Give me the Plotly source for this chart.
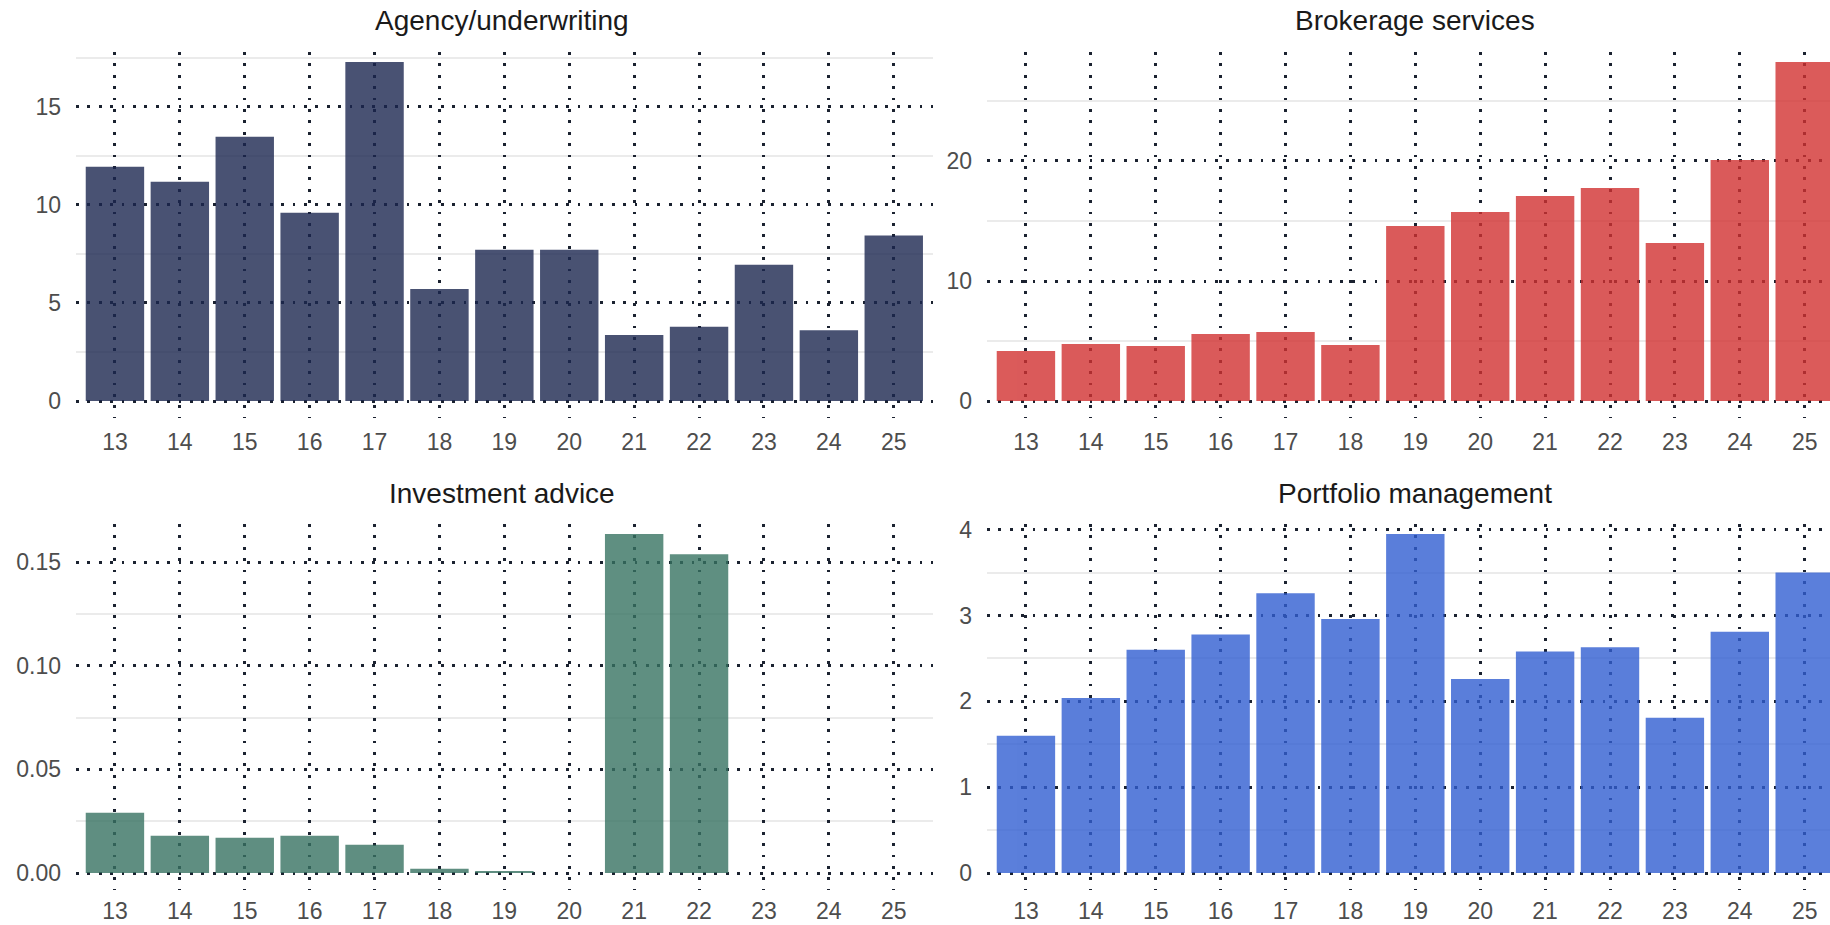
import plotly.graph_objects as go

# ---- data -------------------------------------------------------------
years = [13, 14, 15, 16, 17, 18, 19, 20, 21, 22, 23, 24, 25]
tick_labels = [str(y) for y in years]

agency = [11.94, 11.17, 13.47, 9.59, 17.28, 5.71, 7.71, 7.71, 3.37, 3.79, 6.94, 3.61, 8.43]
brokerage = [4.17, 4.75, 4.58, 5.58, 5.75, 4.67, 14.58, 15.75, 17.08, 17.75, 13.17, 20.08, 28.25]
advice = [0.0291, 0.0180, 0.0170, 0.0180, 0.0136, 0.0021, 0.0010, 0.0, 0.1636, 0.1538, 0.0, 0.0, 0.0]
portfolio = [1.60, 2.04, 2.60, 2.78, 3.26, 2.96, 3.95, 2.26, 2.58, 2.63, 1.81, 2.81, 3.50]

titles = ["Agency/underwriting", "Brokerage services", "Investment advice", "Portfolio management"]
colors = ["#1c2750", "#d23231", "#387362", "#325fd2"]
series = [agency, brokerage, advice, portfolio]
major_dtick = [5, 10, 0.05, 1]
tick_fmt = ["", "", ".2f", ""]

# ---- layout geometry (pixels in a 1830x925 page) ----------------------
W, H = 1830, 925
x_left = (76 / W, 932.7 / W)
x_right = (987 / W, 1.0)
y_top = ((H - 418) / H, (H - 45) / H)
y_bot = ((H - 890) / H, (H - 517) / H)
domains = [(x_left, y_top), (x_right, y_top), (x_left, y_bot), (x_right, y_bot)]
xranges = [[12.4, 25.6], [12.4, 25.39], [12.4, 25.6], [12.4, 25.39]]
x_standoff = [8, 8, 5, 5]
title_pos = [(502 / W, 1 - 20 / H), (1415 / W, 1 - 20 / H),
             (502 / W, 1 - 493 / H), (1415 / W, 1 - 493 / H)]

GRID_DARK = "#1b2230"
MINOR = "#ebebeb"
TICK_FONT = dict(family="Liberation Sans, Arial, sans-serif", size=23, color="#4d4d4d")
TITLE_FONT = dict(family="Liberation Sans, Arial, sans-serif", size=28, color="#1a1a1a")

fig = go.Figure()
layout = dict(
    width=W, height=H, autosize=False,
    margin=dict(l=0, r=0, t=0, b=0),
    paper_bgcolor="white", plot_bgcolor="white",
    showlegend=False, bargap=0.1,
    annotations=[],
)

for i, (vals, col) in enumerate(zip(series, colors)):
    n = "" if i == 0 else str(i + 1)
    fig.add_trace(go.Bar(
        x=years, y=vals, width=0.9, marker=dict(color=col, line=dict(width=0)),
        opacity=0.8, xaxis="x" + n, yaxis="y" + n, name=titles[i],
    ))
    vmax = max(vals)
    yr = [-0.05 * vmax, 1.05 * vmax]
    (xd, yd) = domains[i]
    layout["xaxis" + n] = dict(
        domain=list(xd), anchor="y" + n, range=xranges[i],
        tickmode="array", tickvals=years, ticktext=tick_labels,
        showgrid=True, gridcolor=GRID_DARK, gridwidth=2.8,
        griddash="0px,7px,2.8px,1.6px",
        zeroline=False, showline=False, ticks="",
        tickfont=TICK_FONT, ticklabelstandoff=x_standoff[i], automargin=False,
        fixedrange=True,
    )
    layout["yaxis" + n] = dict(
        domain=list(yd), anchor="x" + n, range=yr,
        dtick=major_dtick[i], tick0=0, tickformat=tick_fmt[i],
        showgrid=True, gridcolor=GRID_DARK, gridwidth=2.8,
        griddash="2.8px,8.6px",
        minor=dict(dtick=major_dtick[i] / 2, tick0=0, showgrid=True,
                   gridcolor=MINOR, gridwidth=1.6, griddash="solid", ticks=""),
        zeroline=False, showline=False, ticks="",
        tickfont=TICK_FONT, ticklabelstandoff=14, automargin=False,
        fixedrange=True,
    )
    layout["annotations"].append(dict(
        text=titles[i], x=title_pos[i][0], y=title_pos[i][1],
        xref="paper", yref="paper", xanchor="center", yanchor="middle",
        showarrow=False, font=TITLE_FONT,
    ))

fig.update_layout(**layout)
fig.write_html(
    "out.html",
    config={"displayModeBar": False},
    post_script="document.body.style.margin='0';document.body.style.overflow='hidden';",
)
